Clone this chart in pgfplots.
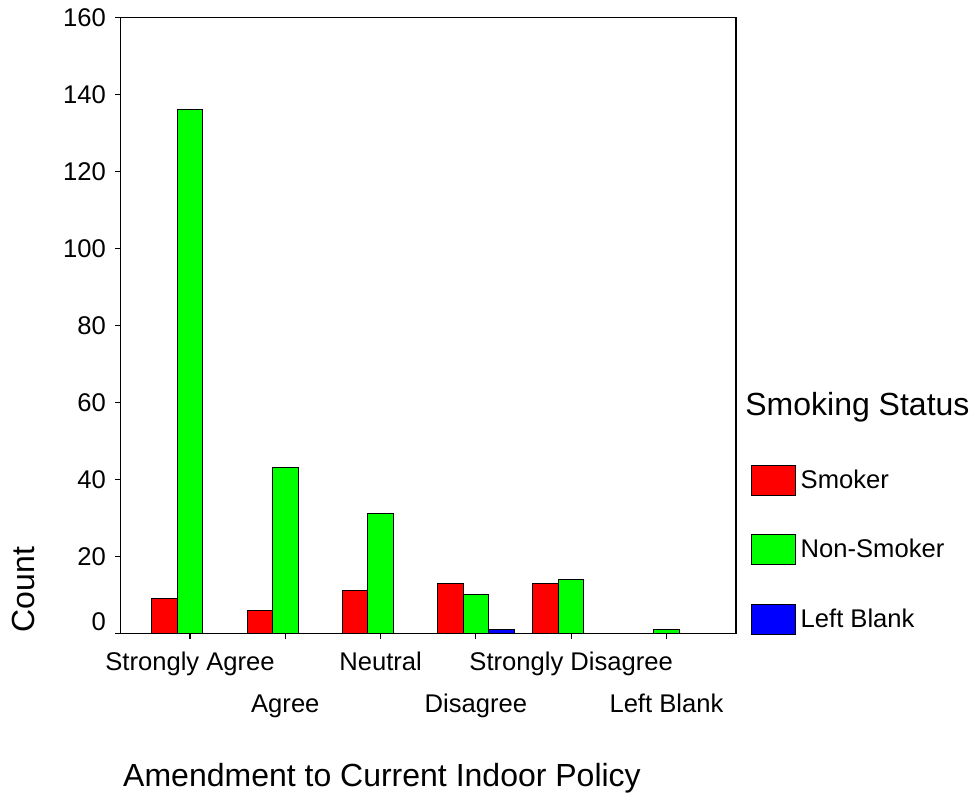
\documentclass[border=0pt]{standalone}
\usepackage{pgfplots}
\pgfplotsset{compat=1.18}
\usepackage{fontspec}
\setmainfont{Liberation Sans}
\definecolor{cRed}{RGB}{255,0,0}
\definecolor{cGreen}{RGB}{0,255,0}
\definecolor{cBlue}{RGB}{0,0,255}
\begin{document}
\begin{tikzpicture}
\begin{axis}[
  name=ax,
  scale only axis,
  width=307.75pt, height=308pt,
  xmin=-0.73, xmax=5.73,
  ymin=0, ymax=160,
  ytick={0,20,40,60,80,100,120,140,160},
  yticklabels={\raisebox{6pt}[\height][\depth]{0},20,40,60,80,100,120,140,160},
  xtick={0,1,2,3,4,5},
  xticklabels={Strongly Agree,\raisebox{-21.15pt}{Agree},Neutral,\raisebox{-21.15pt}{Disagree},Strongly Disagree,\raisebox{-21.15pt}{Left Blank}},
  tick align=outside,
  tick pos=left,
  major tick length=2.75pt,
  axis line style={black, line width=0.6pt},
  every tick/.style={black, line width=0.6pt},
  tick label style={font=\fontsize{12.8}{15}\selectfont},
  xticklabel style={anchor=base, yshift=-15.7pt},
  yticklabel style={xshift=-1pt},
  xlabel={Amendment to Current Indoor Policy},
  ylabel={Count},
  label style={font=\fontsize{16}{19}\selectfont},
  xlabel style={at={(axis description cs:0.4249,-0.2495)}, anchor=base},
  ylabel style={at={(axis description cs:-0.1405,0.0711)}, anchor=base},
  ybar=0pt,
  bar width=0.2675,
  every axis plot post/.append style={legend image code/.code={\draw[##1,draw=black,line width=0.5pt] (0pt,-7.5pt) rectangle (22pt,7.5pt);}},
  legend style={
    draw=none, fill=none,
    at={(axis description cs:1,0)}, anchor=south west,
    xshift=7.35pt, yshift=-0.85pt,
    inner sep=0pt, outer sep=0pt,
    row sep=19.25pt,
    nodes={inner sep=0pt, font=\fontsize{12.8}{15}\selectfont},
    /tikz/every odd column/.append style={column sep=2.5pt},
  },
  legend cell align=left,
]
\addplot[fill=cRed, draw=black, line width=0.5pt] coordinates {(0,9) (1,6) (2,11) (3,13) (4,13)};
\addlegendentry{Smoker}
\addplot[fill=cGreen, draw=black, line width=0.5pt] coordinates {(0,136) (1,43) (2,31) (3,10) (4,14) (5,1)};
\addlegendentry{Non-Smoker}
\addplot[fill=cBlue, draw=black, line width=0.5pt] coordinates {(3,1)};
\addlegendentry{Left Blank}
\end{axis}
\node[anchor=base west, inner sep=0pt, font=\fontsize{16}{19}\selectfont] at ([xshift=4.5pt,yshift=109pt]ax.south east) {Smoking Status};
\path ([xshift=-60.25pt,yshift=-79.85pt]ax.south west) rectangle ([xshift=118pt,yshift=8.65pt]ax.north east);
\end{tikzpicture}
\end{document}
